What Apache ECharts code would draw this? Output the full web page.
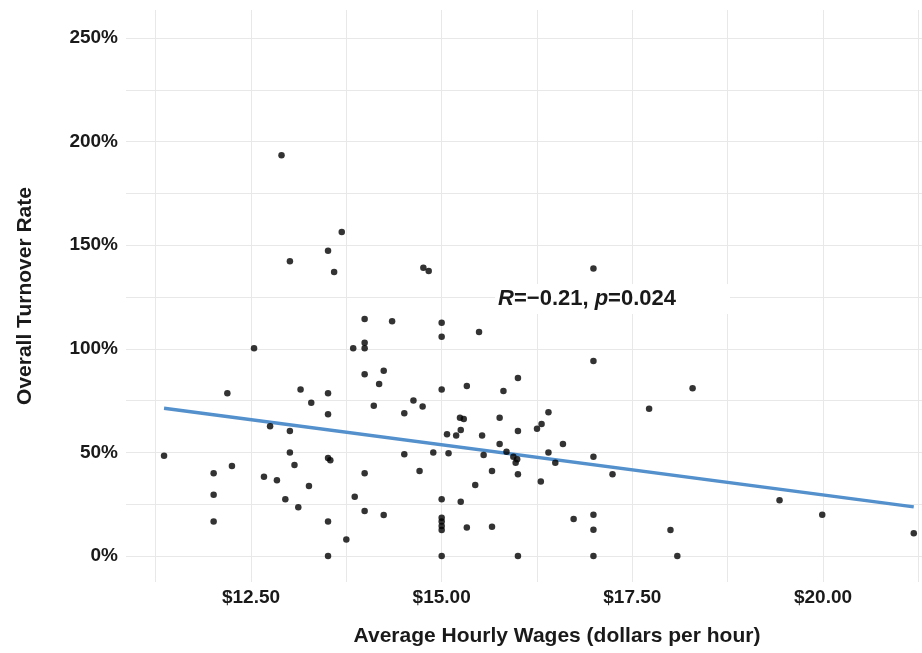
<!DOCTYPE html>
<html>
<head>
<meta charset="utf-8">
<script src="https://cdn.jsdelivr.net/npm/echarts@6/dist/echarts.min.js"></script>
<style>
  html, body { margin: 0; padding: 0; background: #fff; }
  #chart { width: 922px; height: 653px; }
</style>
</head>
<body>
<div id="chart"></div>
<script>
// average hourly wage ($) and overall turnover rate (%) per site
var wages = [
  12.90, 13.69, 13.51, 13.01, 13.59, 13.99,
  12.54, 13.84, 13.99, 13.99, 13.99, 12.19, 13.15, 13.51, 13.29, 13.51,
  12.75, 13.01, 11.36, 13.01, 13.51, 13.54, 13.07, 12.25, 12.01, 13.99,
  12.67, 12.84, 13.26, 12.01, 13.86, 12.95, 13.12, 13.99, 12.01, 13.51,
  13.75, 13.51,
  14.76, 14.83, 14.35, 15.00, 15.00, 15.49, 14.24, 14.18, 15.00, 15.33,
  15.81, 14.11, 14.63, 14.75,
  14.51, 15.24, 15.29, 15.76, 15.25, 15.07, 15.19, 15.53, 15.76, 15.85,
  14.51, 14.89, 15.09, 15.55, 14.71, 15.66, 15.44, 15.00, 15.25, 14.24,
  15.00, 15.00, 15.00, 15.00, 15.33, 15.66, 15.00,
  16.99, 16.99, 16.00,
  16.40, 16.31, 16.25, 16.00, 16.59, 16.40, 16.99, 15.94, 15.99, 15.97,
  16.49, 17.24, 16.00, 16.30, 16.73, 16.99, 16.99, 16.00, 16.99,
  18.29, 17.72, 19.43, 19.99, 21.19, 18.00, 18.09
];
var turnover = [
  193.4, 156.4, 147.3, 142.2, 137.1, 114.4,
  100.2, 100.2, 102.9, 100.2, 87.7, 78.5, 80.3, 78.5, 74.0, 68.4,
  62.6, 60.3, 48.4, 50.0, 47.3, 46.2, 43.9, 43.4, 39.9, 39.9,
  38.3, 36.5, 33.8, 29.6, 28.6, 27.4, 23.5, 21.7, 16.6, 16.6,
  8.0, 0.0,
  139.1, 137.5, 113.3, 112.6, 105.8, 108.1, 89.4, 83.0, 80.4, 82.0,
  79.6, 72.5, 75.1, 72.1,
  68.9, 66.7, 66.1, 66.7, 60.8, 58.7, 58.1, 58.1, 54.1, 50.3,
  49.1, 50.0, 49.6, 48.7, 41.0, 41.0, 34.3, 27.4, 26.2, 19.8,
  18.5, 16.6, 14.5, 12.5, 13.8, 14.1, 0.0,
  138.8, 94.1, 85.9,
  69.4, 63.7, 61.4, 60.3, 54.1, 50.0, 47.9, 47.9, 46.7, 45.0,
  45.0, 39.4, 39.4, 35.9, 17.9, 19.9, 12.7, 0.0, 0.0,
  80.9, 71.1, 26.9, 19.9, 11.0, 12.5, 0.0
];

// linear fit, end points
var fitX = [11.36, 21.19];
var fitY = [71.3, 23.7];

var xTicks = [12.5, 15, 17.5, 20];
var xGrid = [11.25, 12.5, 13.75, 15, 16.25, 17.5, 18.75, 20, 21.25];
var yTicks = [0, 50, 100, 150, 200, 250];
var yGrid = [0, 25, 50, 75, 100, 125, 150, 175, 200, 225, 250];

var points = wages.map(function (w, i) { return [w, turnover[i]]; });
var fit = fitX.map(function (x, i) { return [x, fitY[i]]; });

var tickFont = {
  fontFamily: "Liberation Sans",
  fontWeight: "bold",
  fontSize: 19,
  color: "#1a1a1a"
};
var titleFont = {
  fontFamily: "Liberation Sans",
  fontWeight: "bold",
  fontSize: 21,
  color: "#1a1a1a"
};

var chart = echarts.init(document.getElementById("chart"));
chart.setOption({
  animation: false,
  backgroundColor: "#fff",
  grid: { left: 126, right: 0, top: 10, bottom: 71 },
  xAxis: {
    type: "value",
    min: 10.861,
    max: 21.298,
    name: "Average Hourly Wages (dollars per hour)",
    nameLocation: "middle",
    nameGap: 44,
    // panel runs past the right edge in the original, so the title sits right of centre
    nameTextStyle: Object.assign({ padding: [0, 0, 0, 66] }, titleFont),
    axisLine: { show: false },
    axisTick: { show: false, customValues: xGrid },
    axisLabel: Object.assign({
      customValues: xTicks,
      margin: 6,
      formatter: function (v) { return "$" + v.toFixed(2); }
    }, tickFont),
    splitLine: { show: true, lineStyle: { color: "#e8e8e8", width: 1 } }
  },
  yAxis: {
    type: "value",
    min: -12.55,
    max: 263.5,
    name: "Overall Turnover Rate",
    nameLocation: "middle",
    nameGap: 90,
    nameTextStyle: titleFont,
    axisLine: { show: false },
    axisTick: { show: false, customValues: yGrid },
    axisLabel: Object.assign({
      customValues: yTicks,
      margin: 8,
      formatter: function (v) { return v + "%"; }
    }, tickFont),
    splitLine: { show: true, lineStyle: { color: "#e8e8e8", width: 1 } }
  },
  series: [
    {
      type: "scatter",
      data: points,
      symbolSize: 6.5,
      itemStyle: { color: "#000" },
      z: 3
    },
    {
      type: "line",
      data: fit,
      showSymbol: false,
      lineStyle: { color: "#5390cc", width: 3.5 },
      z: 2,
      markPoint: {
        symbol: "rect",
        symbolSize: 0,
        data: [{ coord: [15.7, 124] }],
        label: {
          show: true,
          position: "right",
          distance: 0,
          backgroundColor: "#fff",
          padding: [4, 54, 4, 3],
          formatter: "{i|R}{b|=\u22120.21, }{i|p}{b|=0.024}",
          rich: {
            i: {
              fontFamily: "Liberation Sans",
              fontStyle: "italic",
              fontWeight: "bold",
              fontSize: 22,
              color: "#1a1a1a"
            },
            b: {
              fontFamily: "Liberation Sans",
              fontWeight: "bold",
              fontSize: 22,
              color: "#1a1a1a"
            }
          }
        }
      }
    }
  ]
});
</script>
</body>
</html>
